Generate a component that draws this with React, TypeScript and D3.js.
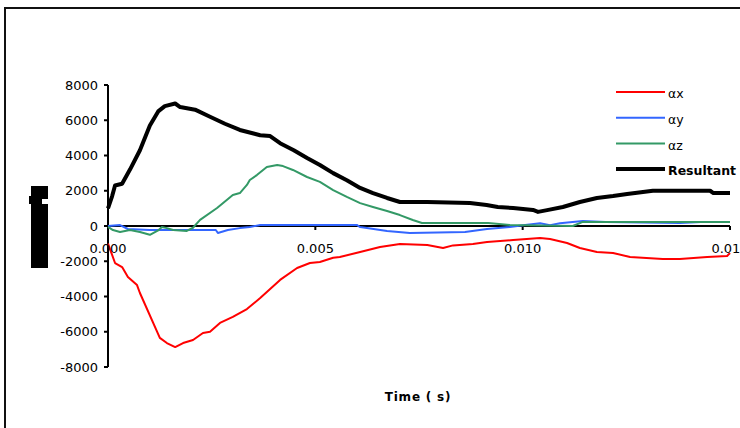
import React from "react";
import * as d3 from "d3";

// time in ms, accelerations in rad/s^2
const resultantT = [0, 0.1, 0.17, 0.34, 0.53, 0.77, 1.01, 1.21, 1.37, 1.62, 1.74, 2.1, 2.46, 2.82, 3.18, 3.67, 3.91, 4.15, 4.48, 4.8, 5.11, 5.43, 5.76, 6.08, 6.39, 6.73, 7.04, 7.7, 8.73, 9.13, 9.4, 9.77, 10.25, 10.37, 10.59, 10.97, 11.38, 11.79, 12.18, 12.52, 13.14, 14.52, 14.6, 15];
const resultantV = [1000, 1700, 2300, 2400, 3200, 4300, 5700, 6500, 6800, 6950, 6750, 6600, 6200, 5800, 5450, 5150, 5100, 4700, 4300, 3860, 3460, 3000, 2600, 2160, 1870, 1590, 1360, 1360, 1300, 1190, 1080, 1020, 910, 800, 900, 1080, 1360, 1590, 1700, 1820, 2000, 2000, 1870, 1870];

const axT = [0, 0.17, 0.34, 0.48, 0.7, 0.77, 1.25, 1.42, 1.62, 1.81, 2.05, 2.29, 2.46, 2.7, 3.01, 3.35, 3.67, 3.83, 4.15, 4.56, 4.87, 5.11, 5.43, 5.59, 6.08, 6.56, 7.04, 7.7, 8.08, 8.32, 8.8, 9.14, 9.77, 10.42, 10.66, 11.07, 11.38, 11.79, 12.18, 12.59, 13.38, 13.79, 14.45, 14.93, 15];
const axV = [-1000, -2100, -2330, -2890, -3350, -3800, -6350, -6640, -6870, -6640, -6470, -6070, -6000, -5500, -5160, -4710, -4090, -3750, -3060, -2380, -2100, -2040, -1800, -1760, -1475, -1190, -1020, -1080, -1250, -1100, -1020, -910, -795, -680, -740, -965, -1250, -1475, -1530, -1760, -1870, -1870, -1760, -1700, -1530];

const ayT = [0, 0.29, 0.48, 1.0, 2.6, 2.65, 2.89, 3.18, 3.42, 3.67, 6.0, 6.08, 6.73, 7.28, 8.61, 9.14, 9.69, 10.06, 10.42, 10.66, 10.9, 11.45, 12.0, 13.79, 14.3, 15];
const ayV = [0, 50, -170, -230, -230, -400, -230, -120, -60, 60, 60, -60, -280, -400, -340, -170, -60, 60, 150, 50, 150, 280, 230, 170, 230, 230];

const azT = [0, 0.12, 0.29, 0.53, 0.77, 1.01, 1.21, 1.3, 1.42, 1.57, 1.9, 2.05, 2.22, 2.63, 3.01, 3.18, 3.35, 3.42, 3.59, 3.83, 4.08, 4.22, 4.46, 4.8, 5.11, 5.43, 5.76, 6.08, 6.39, 6.73, 7.04, 7.35, 7.57, 9.17, 9.69, 11.21, 11.45, 15];
const azV = [-50, -230, -340, -230, -340, -500, -250, -60, -120, -230, -280, -100, 350, 1020, 1760, 1870, 2330, 2610, 2890, 3350, 3460, 3400, 3180, 2780, 2500, 2040, 1650, 1300, 1080, 850, 620, 340, 170, 170, 60, 0, 230, 230];

const xTicks = [0, 5, 10, 15];
const legendLabels = ["\u03b1x", "\u03b1y", "\u03b1z", "Resultant \u03b1"];

export default function App() {
  const x = d3.scaleLinear().domain([0, 15]).range([108, 730]);
  const y = d3.scaleLinear().domain([-8000, 8000]).range([367, 85]);
  const line = d3.line<[number, number]>().x(d => x(d[0])).y(d => y(d[1]));

  const series = [
    { t: axT, v: axV, color: "#ff0000", w: 2 },
    { t: ayT, v: ayV, color: "#3366ff", w: 2 },
    { t: azT, v: azV, color: "#339966", w: 2 },
    { t: resultantT, v: resultantV, color: "#000000", w: 4 },
  ];

  const font = "DejaVu Sans, Verdana, sans-serif";

  return (
    <svg width={740} height={428} style={{ position: "absolute", left: 0, top: 0, background: "#fff" }}>
      {/* outer frame */}
      <rect x={5} y={8} width={800} height={800} fill="none" stroke="#111" strokeWidth={2} />

      {/* cropped y axis title glyph */}
      <rect x={31} y={186} width={17} height={82} fill="#000" />
      <rect x={29} y={196} width={3} height={8} fill="#000" />
      <rect x={42} y={199} width={6} height={5} fill="#fff" />

      {/* axes */}
      <line x1={108} x2={108} y1={y(8000)} y2={y(-8000)} stroke="#000" strokeWidth={2} />
      {y.ticks(8).map(v => (
        <line key={"yt" + v} x1={104} x2={108} y1={y(v)} y2={y(v)} stroke="#000" strokeWidth={2} />
      ))}
      <line x1={x(0)} x2={x(15)} y1={y(0)} y2={y(0)} stroke="#000" strokeWidth={2} />
      {xTicks.map(v => (
        <line key={"xt" + v} x1={x(v)} x2={x(v)} y1={y(0)} y2={y(0) + 4} stroke="#000" strokeWidth={2} />
      ))}

      {series.map((s, i) => (
        <path
          key={i}
          d={line(s.t.map((t, j) => [t, s.v[j]] as [number, number])) || ""}
          fill="none"
          stroke={s.color}
          strokeWidth={s.w}
          strokeLinejoin="round"
        />
      ))}

      {/* tick labels */}
      {y.ticks(8).map(v => (
        <text key={"yl" + v} x={98} y={y(v)} dy="0.35em" textAnchor="end" fontFamily={font} fontSize={13} fill="#000">
          {v}
        </text>
      ))}
      {xTicks.map(v => (
        <text key={"xl" + v} x={x(v)} y={253} textAnchor="middle" fontFamily={font} fontSize={13} fill="#000">
          {(v / 1000).toFixed(3)}
        </text>
      ))}

      <text x={418} y={401} textAnchor="middle" fontFamily={font} fontSize={12} fontWeight="bold" letterSpacing={0.8} fill="#000">
        Time ( s)
      </text>

      {/* legend */}
      {series.map((s, i) => {
        const ly = 92 + i * 25.7;
        return (
          <g key={"lg" + i}>
            <line x1={616} x2={665} y1={ly} y2={ly} stroke={s.color} strokeWidth={s.w} />
            <text x={668} y={ly + 2} dy="0.35em" fontFamily={font} fontSize={12.5} fontWeight={i === 3 ? "bold" : "normal"} fill="#000">
              {legendLabels[i]}
            </text>
          </g>
        );
      })}
    </svg>
  );
}
